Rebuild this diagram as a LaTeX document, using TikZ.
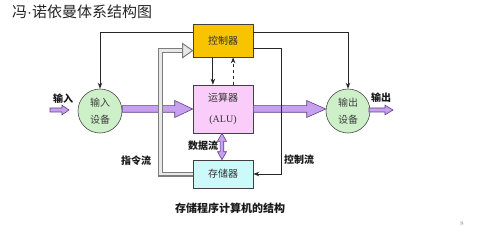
\documentclass[tikz,border=0pt]{standalone}
\usepackage{fontspec}
\newfontfamily\cjk{Noto Sans CJK SC}
\newfontfamily\serifL{Liberation Serif}
\newfontfamily\sansL{Liberation Sans}
\usetikzlibrary{calc,arrows.meta}
\definecolor{ctrlfill}{RGB}{248,196,0}
\definecolor{alufill}{RGB}{250,204,250}
\definecolor{memfill}{RGB}{204,250,250}
\definecolor{devfill}{RGB}{205,240,200}
\definecolor{purfill}{RGB}{200,160,240}
\definecolor{purdraw}{RGB}{95,65,135}
\definecolor{instrout}{RGB}{125,125,125}
\definecolor{instrin}{RGB}{232,232,232}
\newcommand\myfat[5]{\filldraw[fatarr] ($#1+(0,-#3)$) -- ($#2+(-#5,-#3)$) -- ($#2+(-#5,-#4)$) -- #2 -- ($#2+(-#5,#4)$) -- ($#2+(-#5,#3)$) -- ($#1+(0,#3)$) -- cycle;}
\tikzset{
  box/.style={draw=black!75, line width=0.6pt, minimum width=60pt, inner sep=0pt, text=black!80, font=\cjk\fontsize{10}{12}\selectfont, align=center},
  dev/.style={circle, draw=black!70, line width=0.6pt, fill=devfill, minimum size=44pt, inner sep=0pt, text=black!75, font=\cjk\fontsize{10}{17}\selectfont, align=center},
  fatarr/.style={fill=purfill, draw=purdraw, line width=0.6pt, line join=miter},
  ctl/.style={draw=black!85, line width=0.9pt, -{Stealth[length=6pt,width=4.5pt]}},
  instr/.style={draw=instrout, double=instrin, double distance=2.6pt, line width=1.2pt},
  lab/.style={font=\cjk\bfseries\fontsize{10}{12}\selectfont, text=black!90, inner sep=0pt},
}
\begin{document}
\begin{tikzpicture}[x=1pt,y=-1pt]
\useasboundingbox (0,0) rectangle (500,227);
\fill[white] (0,0) rectangle (500,227);
% title
\node[font=\cjk\fontsize{15}{17}\selectfont, text=black!85, anchor=west, inner sep=0pt] (title) at (12,12) {冯{\sansL ·}诺依曼体系结构图};
% blocks
\node[box, fill=ctrlfill, minimum height=33pt] (ctrl) at (223,40.5) {控制器};
\node[box, fill=alufill, minimum height=48pt, font=\cjk\fontsize{10}{21}\selectfont] (alu) at (223,109) {运算器\\{\serifL (ALU)}};
\node[box, fill=memfill, minimum height=28pt] (mem) at (223,174) {存储器};
\node[dev] (in) at (100,111) {输入\\设备};
\node[dev] (out) at (348,111) {输出\\设备};
% small in/out arrows
\coordinate (ia1) at (50,110);
\coordinate (ia2) at (69,110);
\coordinate (oa1) at (369,110);
\coordinate (oa2) at (393,110);
\myfat{(ia1)}{(ia2)}{2}{4.8}{7}
\myfat{(oa1)}{(oa2)}{2}{4.8}{8}
\node[lab] (inlab) at (63,99) {输入};
\node[lab] (outlab) at (381,98) {输出};
% big data arrows
\myfat{(in.east |- alu.west)}{(alu.west)}{3.3}{8.5}{18}
\myfat{(alu.east)}{(out.west |- alu.east)}{3.3}{8.5}{19}
% data flow double arrow
\coordinate (d1) at ($(alu.south west)!0.483!(alu.south east)$);
\coordinate (d2) at (d1 |- mem.north);
\filldraw[fatarr] (d1) -- ++(4.5,8) -- ++(-2.7,0) -- ($(d2)+(1.8,-8)$) -- ++(2.7,0) -- (d2) -- ++(-4.5,-8) -- ++(2.7,0) -- ($(d1)+(-1.8,8)$) -- ++(-2.7,0) -- cycle;
\node[lab] (dlab) at (203,146) {数据流};
% instruction flow (gray double line)
\coordinate (g2) at ($(ctrl.north west)!0.8!(ctrl.south west)$);
\coordinate (gx) at (160.5,0);
\draw[instr] (mem.west) -| (gx |- g2) -- ($(g2)+(-9,0)$);
\filldraw[fill=instrin, draw=instrout, line width=1pt, line join=miter] (g2) -- ++(-10,-7) -- ++(0,14) -- cycle;
\node[lab] (ilab) at (136,161) {指令流};
% control lines
\coordinate (c1) at ($(ctrl.north west)!0.25!(ctrl.south west)$);
\coordinate (c1r) at ($(ctrl.north east)!0.25!(ctrl.south east)$);
\coordinate (c2) at ($(ctrl.north east)!0.73!(ctrl.south east)$);
\coordinate (cx) at (281,0);
\draw[ctl] (c1) -| (in.north);
\draw[ctl] (c1r) -| (out.north);
\draw[ctl] (c2) -| (cx |- mem.east) -- (mem.east);
\node[lab] (clab) at (299,160) {控制流};
% controller <-> ALU
\coordinate (k1) at ($(ctrl.south west)!0.333!(ctrl.south east)$);
\coordinate (k2) at ($(alu.north west)!0.667!(alu.north east)$);
\draw[ctl] (k1) -- (k1 |- alu.north);
\draw[ctl, dashed] (k2) -- (k2 |- ctrl.south);
% caption
\node[font=\cjk\bfseries\fontsize{11}{13}\selectfont, text=black!90, inner sep=0pt] (cap) at (230,208) {存储程序计算机的结构};
\node[font=\fontsize{6}{7}\selectfont, text=black!45, inner sep=0pt] (pg) at (462,224) {8};
\end{tikzpicture}
\end{document}
